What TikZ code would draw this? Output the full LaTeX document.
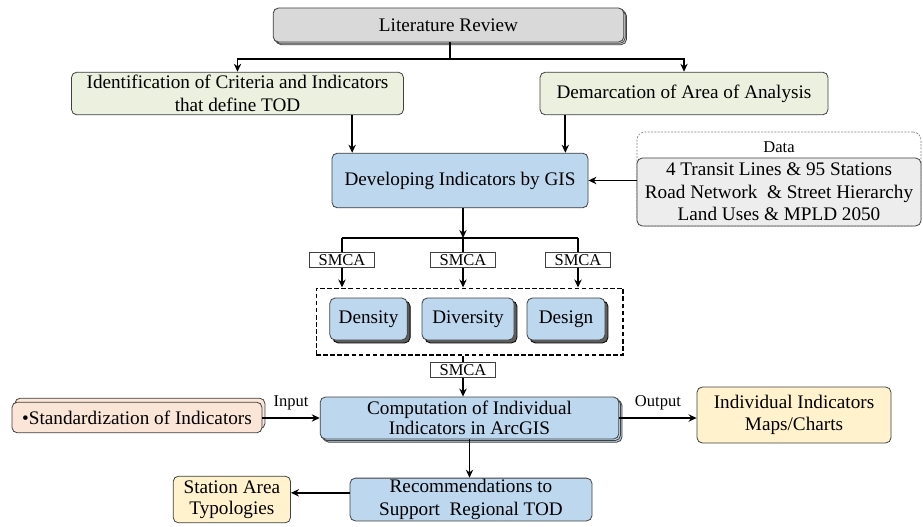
\documentclass[tikz,border=0pt]{standalone}
\usepackage{fontspec}
\setmainfont{LiberationSerif}[Extension=.ttf, UprightFont=*-Regular, BoldFont=*-Bold, ItalicFont=*-Italic, BoldItalicFont=*-BoldItalic]
\usetikzlibrary{arrows.meta, positioning, shadows}

\definecolor{reviewgray}{HTML}{D9D9D9}
\definecolor{critgreen}{HTML}{EBF1DE}
\definecolor{gisblue}{HTML}{BDD7EE}
\definecolor{datagray}{HTML}{EDEDED}
\definecolor{stdpeach}{HTML}{FBE5D6}
\definecolor{outyellow}{HTML}{FFF2CC}
\definecolor{edgegray}{HTML}{404040}

\begin{document}
\begin{tikzpicture}[
    x=0.75pt, y=-0.75pt,
    font=\fontsize{14.4}{17}\selectfont,
    base/.style = {rectangle, draw=edgegray, line width=0.6pt, rounded corners=4pt, align=center, inner sep=1pt},
    review/.style = {base, fill=reviewgray, minimum width=263pt, minimum height=25.5pt,
      copy shadow={shadow xshift=2pt, shadow yshift=-2pt, fill=reviewgray, draw=edgegray},
      copy shadow={shadow xshift=1pt, shadow yshift=-1pt, fill=reviewgray, draw=edgegray}},
    criteria/.style = {base, fill=critgreen, minimum height=32pt},
    process/.style = {base, fill=gisblue},
    dimension/.style = {base, fill=gisblue, minimum height=31.5pt, copy shadow={shadow xshift=2.2pt, shadow yshift=-2.2pt, fill=edgegray!85, draw=black}},
    databox/.style = {base, fill=datagray, minimum width=213pt, minimum height=51pt},
    dataframe/.style = {rectangle, draw=gray, dash pattern=on 1.5pt off 1pt, rounded corners=6pt, line width=0.5pt, minimum width=213pt, minimum height=70.5pt},
    group/.style = {rectangle, draw, line width=1pt, dash pattern=on 3.5pt off 1.8pt, minimum width=230pt, minimum height=50pt},
    smca/.style = {rectangle, draw=edgegray, line width=0.6pt, fill=white, inner sep=0pt, minimum width=49pt, minimum height=11.3pt, font=\fontsize{12.4}{14}\selectfont},
    result/.style = {base, fill=outyellow},
    tag/.style = {font=\fontsize{12.4}{14}\selectfont},
    link/.style = {line width=1.4pt},
    >={Stealth[length=6pt, width=5.5pt]}]

\useasboundingbox (0,0) rectangle (923,527);

\node[review] (LR) at (448.5,25) {Literature Review};
\node[criteria, minimum width=249pt] (ID) at (237.5,93.5) {Identification of Criteria and Indicators\\that define TOD};
\node[criteria, minimum width=216pt] (DA) at (684,93.5) {Demarcation of Area of Analysis};
\node[process, minimum width=192pt, minimum height=41pt] (GIS) at (460,180.5) {Developing Indicators by GIS};

\node[dataframe] (DF) at (779,179) {};
\node[tag, minimum height=22pt] (DT) at (779,147) {Data};
\node[databox] (DB) at (779,192) {4 Transit Lines \& 95 Stations\\Road Network~ \& Street Hierarchy\\Land Uses \& MPLD 2050};

\coordinate (split) at (450,59);
\coordinate (fork) at (463,238);
\node[smca] (S1) at (342,260) {SMCA};
\node[smca] (S2) at (463,260) {SMCA};
\node[smca] (S3) at (578,260) {SMCA};

\node[group] (GRP) at (469.5,321.5) {};
\node[dimension, minimum width=58pt] (DEN) at (368.5,319) {Density};
\node[dimension, minimum width=69pt] (DIV) at (468,319) {Diversity};
\node[dimension, minimum width=58.5pt] (DES) at (566,319) {Design};
\node[smca] (S4) at (463,370) {SMCA};

\node[process, minimum width=224pt, minimum height=31.5pt, font=\fontsize{14.4}{15}\selectfont,
  copy shadow={shadow xshift=2.4pt, shadow yshift=-2.4pt, fill=gisblue!85!gray, draw=edgegray},
  copy shadow={shadow xshift=1.2pt, shadow yshift=-1.2pt, fill=gisblue, draw=edgegray}] (COMP) at (469.5,418) {Computation of Individual\\Indicators in ArcGIS};
\node[base, fill=stdpeach, minimum width=187.5pt, minimum height=23pt,
  copy shadow={shadow xshift=2.2pt, shadow yshift=3pt, fill=stdpeach, draw=edgegray}] (STD) at (137,417.5) {\textbullet Standardization of Indicators};
\node[result, minimum width=145.5pt, minimum height=42pt, font=\fontsize{14.4}{16}\selectfont] (IND) at (794,415) {Individual Indicators\\Maps/Charts};
\node[process, minimum width=181.5pt, minimum height=32pt] (REC) at (471,499.5) {Recommendations to\\Support~ Regional TOD};
\node[result, minimum width=88pt, minimum height=35pt, font=\fontsize{14.4}{15.5}\selectfont, left=44pt of REC] (STA) {Station Area\\Typologies};

%connectors
\draw[link] (LR.south -| split) -- (split);
\draw[link,->] (split) -| (ID.north);
\draw[link,->] (split) -| (DA.north);
\draw[link,->] ([xshift=86pt]ID.south) -- ([xshift=86pt]ID.south |- GIS.north);
\draw[link,->] ([xshift=-89pt]DA.south) -- ([xshift=-89pt]DA.south |- GIS.north);
\draw[link,->] (DB.west |- GIS.east) -- (GIS.east);
\draw[link,->] (GIS.south -| fork) -- (fork);
\draw[link] (fork -| S1) -- (fork -| S3);
\draw[link] (fork -| S1) -- (S1.north);
\draw[link] (fork -| S2) -- (S2.north);
\draw[link] (fork -| S3) -- (S3.north);
\draw[link,->] (S1.south) -- (S1.south |- GRP.north);
\draw[link,->] (S2.south) -- (S2.south |- GRP.north);
\draw[link,->] (S3.south) -- (S3.south |- GRP.north);
\draw[link] (GRP.south -| S4) -- (S4.north);
\draw[link,->] (S4.south) -- (S4.south |- COMP.north);
\draw[link,->] (STD.east |- COMP.west) -- node[tag, above=2pt] {Input} (COMP.west);
\draw[link,->] (COMP.east) -- node[tag, above=2pt] {Output} (COMP.east -| IND.west);
\draw[link,->] (COMP.south) -- (COMP.south |- REC.north);
\draw[link,->] ([yshift=5pt]REC.west) -- ([yshift=5pt]REC.west -| STA.east);
\end{tikzpicture}
\end{document}
